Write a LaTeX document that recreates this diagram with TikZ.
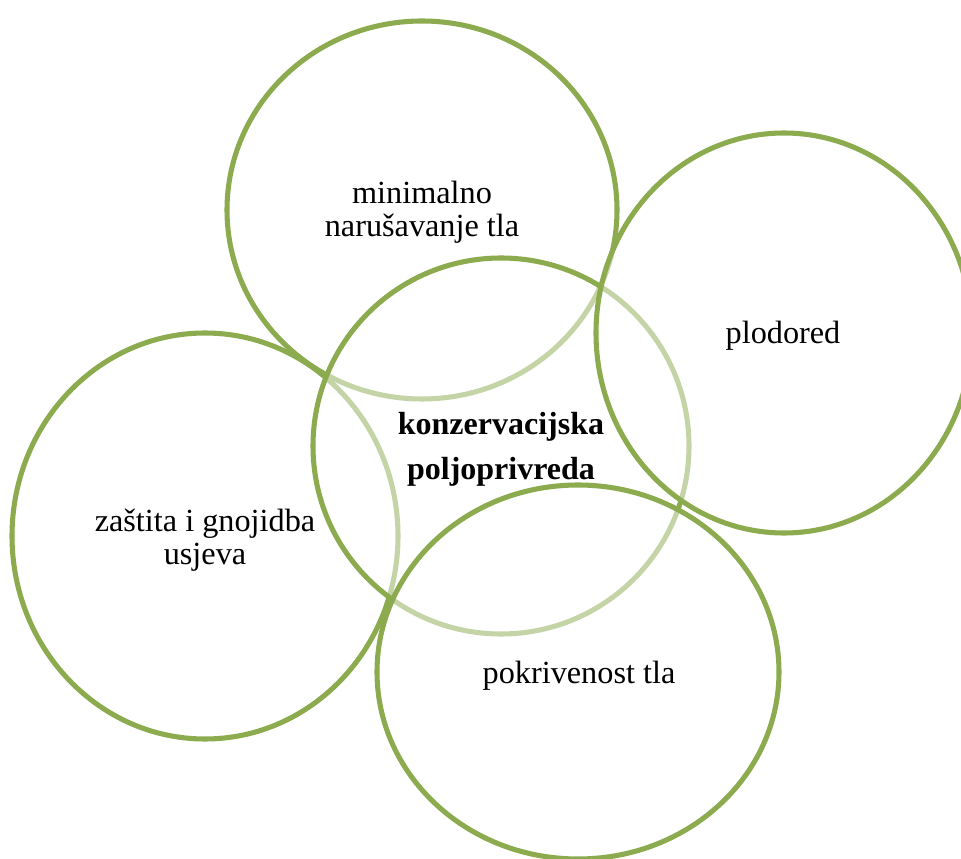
\documentclass[tikz,border=0pt]{standalone}
\usepackage{fontspec}
\setmainfont{Liberation Serif}
\definecolor{ring}{HTML}{8CAA4E}
\begin{document}
\begin{tikzpicture}[x=0.75pt,y=-0.75pt,
  ringstyle/.style={draw=ring,line width=3.8pt,fill=white,fill opacity=0.5,draw opacity=1},
  lbl/.style={font=\fontsize{24.2pt}{24.8pt}\selectfont,align=center,text=black,inner sep=0pt},
  clbl/.style={font=\fontsize{24pt}{33.8pt}\selectfont\bfseries,align=center,text=black,inner sep=0pt}]
\useasboundingbox (0,0) rectangle (961,859);
\path[ringstyle] (422,210) ellipse [x radius=195, y radius=189];
\path[ringstyle] (205,536) ellipse [x radius=193, y radius=203];
\path[ringstyle] (501,446) ellipse [x radius=188, y radius=188];
\path[ringstyle] (784,333) ellipse [x radius=188, y radius=200];
\path[ringstyle] (578,672) ellipse [x radius=201, y radius=187];
\node[lbl] (top) at (422,212) {minimalno\\narušavanje tla};
\node[lbl] (left) at (205,540) {zaštita i gnojidba\\usjeva};
\node[lbl] (right) at (783,336) {plodored};
\node[lbl] (bottom) at (579,676) {pokrivenost tla};
\node[clbl] (center) at (501,449) {konzervacijska\\poljoprivreda};
\end{tikzpicture}
\end{document}
